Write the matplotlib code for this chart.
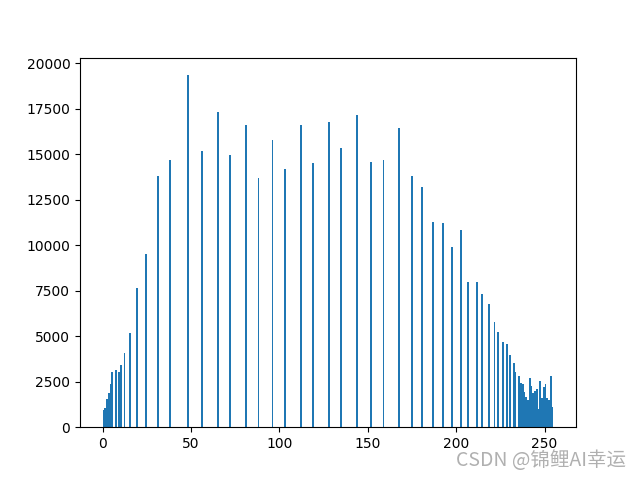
import matplotlib.pyplot as plt

# gray levels that have pixels, and how many pixels each one has
levels = [0, 1, 2, 3, 4, 5, 7, 9, 10, 12, 15, 19, 24, 31, 38, 48, 56, 65, 72, 81,
          88, 96, 103, 112, 119, 128, 135, 144, 152, 159, 168, 175, 181, 187, 193,
          198, 203, 207, 212, 215, 219, 222, 224, 227, 229, 231, 233, 234,
          236, 237, 238, 239, 240, 241, 242, 243, 244, 245, 246, 247, 248, 249,
          250, 251, 252, 253, 254, 255]
counts = [930, 1040, 1540, 1870, 2360, 3020, 3130, 3020, 3400, 4070, 5160, 7640,
          9500, 13790, 14670, 19340, 15170, 17310, 14950, 16590, 13680, 15770,
          14180, 16590, 14500, 16760, 15330, 17140, 14560, 14670, 16430, 13790,
          13190, 11260, 11210, 9890, 10820, 7970, 7970, 7310, 6760, 5770, 5220,
          4670, 4560, 3960, 3520, 3020,
          2800, 2420, 2360, 1920, 1650, 1480, 2690, 2250, 1870, 1980, 2090, 990,
          2530, 1590, 2200, 2360, 1590, 1480, 2800, 1100]

plt.figure(figsize=(6.4, 4.8), dpi=100)
plt.hist(levels, bins=256, weights=counts)

plt.gcf().text(0.978, 0.018, 'CSDN @锦鲤AI幸运', ha='right', va='bottom',
               fontsize=14, color='#b0b0b0',
               family=['Noto Sans CJK SC', 'DejaVu Sans'])

plt.savefig('out.png')
